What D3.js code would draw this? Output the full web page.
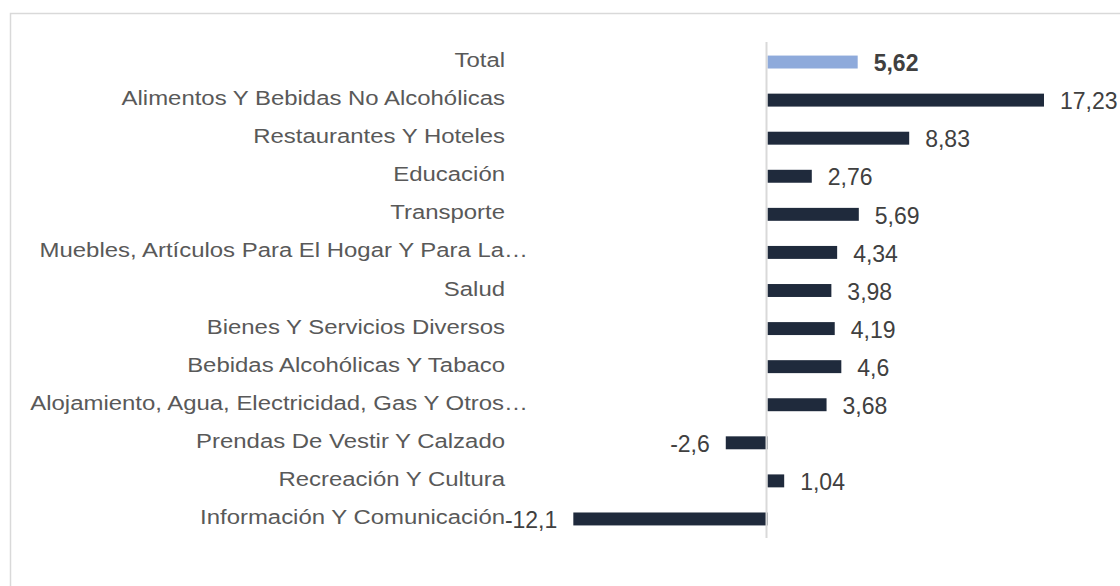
<!DOCTYPE html>
<html>
<head>
<meta charset="utf-8">
<style>
  body { margin: 0; background: #fff; }
  svg { display: block; font-family: "Liberation Sans", Arial, sans-serif; }
</style>
</head>
<body>
<div id="chart"></div>
<script src="https://cdn.jsdelivr.net/npm/d3@7"></script>
<script>

var categories = ["Total", "Alimentos Y Bebidas No Alcohólicas", "Restaurantes Y Hoteles", "Educación",
  "Transporte", "Muebles, Artículos Para El Hogar Y Para La…", "Salud", "Bienes Y Servicios Diversos",
  "Bebidas Alcohólicas Y Tabaco", "Alojamiento, Agua, Electricidad, Gas Y Otros…",
  "Prendas De Vestir Y Calzado", "Recreación Y Cultura", "Información Y Comunicación"];
var values = [5.62, 17.23, 8.83, 2.76, 5.69, 4.34, 3.98, 4.19, 4.6, 3.68, -2.6, 1.04, -12.1];
var valueLabels = ["5,62", "17,23", "8,83", "2,76", "5,69", "4,34", "3,98", "4,19", "4,6", "3,68", "-2,6", "1,04", "-12,1"];

var W = 1120, H = 586;
var svg = d3.select("#chart").append("svg")
  .attr("width", W)
  .attr("height", H);

// chart frame (only top and left edge are inside the picture)
svg.append("rect")
  .attr("x", 10.5).attr("y", 13.5)
  .attr("width", 1120).attr("height", 600)
  .attr("fill", "none")
  .attr("stroke", "#d9d9d9")
  .attr("stroke-width", 1.5);

var x = d3.scaleLinear().domain([0, 17.23]).range([767.5, 1044]);
var y = d3.scaleBand().domain(categories).range([43, 538])
  .paddingInner(0.66).paddingOuter(0.33);

var labelX = 505;

// category labels (slightly wide type, like the original);
// truncated ones hang past the label edge
svg.selectAll("text.cat")
  .data(categories)
  .enter().append("text")
  .attr("class", "cat")
  .attr("transform", function(d) {
    var lx = d.slice(-1) == "…" ? labelX + 23 : labelX;
    return "translate(" + lx + "," + (y(d) + y.bandwidth() / 2) + ") scale(1.14,1)";
  })
  .attr("dy", "0.24em")
  .attr("text-anchor", "end")
  .style("font-size", "21px")
  .style("fill", "#595959")
  .text(function(d) { return d; });

// bars
svg.selectAll("rect.bar")
  .data(values)
  .enter().append("rect")
  .attr("class", "bar")
  .attr("x", function(d) { return Math.min(x(0), x(d)); })
  .attr("y", function(d, i) { return y(categories[i]); })
  .attr("width", function(d) { return Math.abs(x(d) - x(0)); })
  .attr("height", y.bandwidth())
  .attr("fill", function(d, i) { return i == 0 ? "#8eaadb" : "#1f2a3c"; });

// zero line
svg.append("line")
  .attr("x1", x(0) - 1).attr("x2", x(0) - 1)
  .attr("y1", 42).attr("y2", 538)
  .attr("stroke", "#d9d9d9")
  .attr("stroke-width", 2);

// value labels
svg.selectAll("text.val")
  .data(values)
  .enter().append("text")
  .attr("class", "val")
  .attr("x", function(d) { return d >= 0 ? x(d) + 16 : x(d) - 16; })
  .attr("y", function(d, i) { return y(categories[i]) + y.bandwidth() / 2; })
  .attr("dy", "0.4em")
  .attr("text-anchor", function(d) { return d >= 0 ? "start" : "end"; })
  .style("font-size", "23px")
  .style("font-weight", function(d, i) { return i == 0 ? "bold" : "normal"; })
  .style("fill", "#404040")
  .text(function(d, i) { return valueLabels[i]; });

</script>
</body>
</html>
